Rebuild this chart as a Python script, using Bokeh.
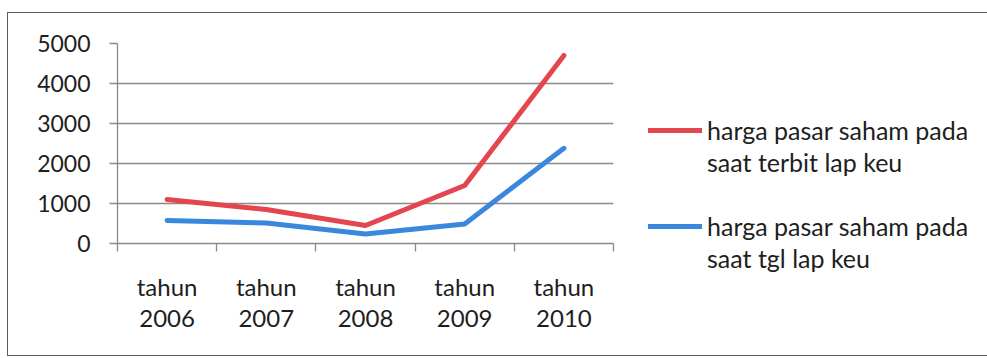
from bokeh.plotting import figure
from bokeh.models import (FactorRange, Range1d, LinearAxis, CategoricalAxis, FixedTicker,
                          Legend, LegendItem)
from bokeh.embed import file_html
from bokeh.resources import INLINE

# ---- data ----
categories = ["tahun\n2006", "tahun\n2007", "tahun\n2008", "tahun\n2009", "tahun\n2010"]
harga_terbit = [1100, 850, 450, 1450, 4700]   # harga pasar saham pada saat terbit lap keu
harga_tgl = [575, 510, 240, 490, 2380]        # harga pasar saham pada saat tgl lap keu
legend_lines_terbit = ["harga pasar saham pada", "saat terbit lap keu"]
legend_lines_tgl = ["harga pasar saham pada", "saat tgl lap keu"]
y_ticks = [0, 1000, 2000, 3000, 4000, 5000]

FONT = "Lato"
TEXT = "#1e1e1e"
GRID = "#8a8a8a"
RED = "#e3464e"
BLUE = "#3a88de"

p = figure(frame_width=496, frame_height=200,
           x_range=FactorRange(factors=categories, range_padding=0),
           y_range=Range1d(y_ticks[0], y_ticks[-1]),
           output_backend="svg", toolbar_location=None,
           x_axis_location=None, y_axis_location="left",
           min_border_left=109, min_border_right=0,
           min_border_top=30, min_border_bottom=112)
p.margin = (13, 5, 3, 8)
p.styles = {"outline": "1.5px solid #5a5a5a"}

p.outline_line_color = None
p.background_fill_color = "white"
p.border_fill_color = "white"

for g in p.xgrid:
    g.visible = False
p.ygrid.ticker = FixedTicker(ticks=y_ticks)
p.ygrid.grid_line_color = GRID
p.ygrid.grid_line_width = 1.3

yax = p.yaxis[0]
yax.ticker = FixedTicker(ticks=y_ticks)
yax.axis_line_color = GRID
yax.axis_line_width = 1.3
yax.major_tick_line_color = GRID
yax.major_tick_line_width = 1.3
yax.major_tick_out = 8
yax.major_tick_in = 0
yax.minor_tick_line_color = None
yax.major_label_standoff = 19
yax.major_label_text_font = FONT
yax.major_label_text_font_size = "23px"
yax.major_label_text_color = TEXT

# axis with ticks at category boundaries (no labels)
boundaries = list(range(len(categories) + 1))
tick_axis = LinearAxis(ticker=FixedTicker(ticks=boundaries),
                       major_label_overrides={b: "" for b in boundaries},
                       major_label_text_font_size="1px",
                       major_label_standoff=0,
                       axis_line_color=GRID, axis_line_width=1.3,
                       major_tick_line_color=GRID, major_tick_line_width=1.3,
                       major_tick_out=8, major_tick_in=0,
                       minor_tick_line_color=None)
p.add_layout(tick_axis, "below")

label_axis = CategoricalAxis(axis_line_color=None, major_tick_line_color=None,
                             major_tick_out=0, major_tick_in=0,
                             major_label_standoff=20,
                             major_label_text_font=FONT,
                             major_label_text_font_size="24px",
                             major_label_text_color=TEXT,
                             major_label_text_line_height=1.1)
p.add_layout(label_axis, "below")

r_terbit = p.line(x=categories, y=harga_terbit, line_color=RED, line_width=5,
                  line_join="round", line_cap="round")
r_tgl = p.line(x=categories, y=harga_tgl, line_color=BLUE, line_width=5,
               line_join="round", line_cap="round")
dummy = p.line(x=[], y=[], line_alpha=0)

legend = Legend(items=[
    LegendItem(label=legend_lines_terbit[0], renderers=[r_terbit]),
    LegendItem(label=legend_lines_terbit[1], renderers=[dummy]),
    LegendItem(label=" ", renderers=[dummy]),
    LegendItem(label=legend_lines_tgl[0], renderers=[r_tgl]),
    LegendItem(label=legend_lines_tgl[1], renderers=[dummy]),
], location=(35, -31), glyph_width=54, glyph_height=32, label_height=32,
    label_standoff=5, spacing=0, padding=0, margin=0,
    border_line_color=None, background_fill_alpha=0,
    label_text_font=FONT, label_text_font_size="25px", label_text_color=TEXT)
p.add_layout(legend, "right")

open("out.html", "w").write(file_html(p, INLINE))
